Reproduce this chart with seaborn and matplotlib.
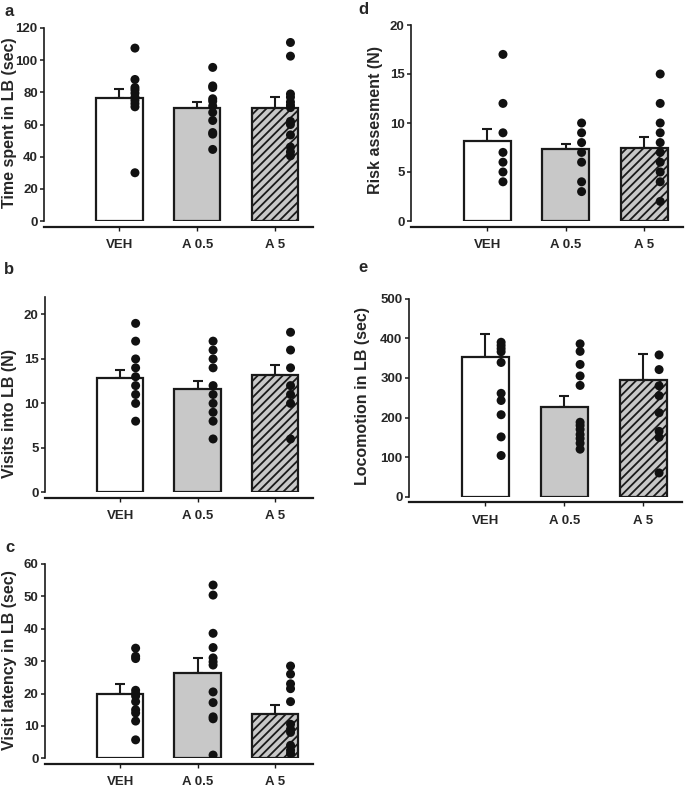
import numpy as np
import matplotlib
matplotlib.use('Agg')
import matplotlib.pyplot as plt
import seaborn as sns

groups = ['VEH', 'A 0.5', 'A 5']

# a: time spent in light box (sec)
time_means = [76.3, 70.3, 70.3]
time_sem = [5.6, 3.8, 6.5]
time_veh = [107.5, 88, 83, 81.5, 79.5, 77, 75, 73, 71, 30]
time_a05 = [95.5, 84, 83, 76, 74.5, 71.5, 67.5, 62.5, 55, 54, 44.5]
time_a5 = [111, 102.5, 79, 77, 74, 72, 70.5, 62, 60, 53.5, 46, 43, 40.5]

# b: visits into light box (N)
visit_means = [12.8, 11.6, 13.2]
visit_sem = [1.0, 0.95, 1.1]
visit_veh = [19, 17, 15, 14, 13, 12, 11, 10, 8]
visit_a05 = [17, 16, 15, 14, 12, 11, 10, 9, 8, 6]
visit_a5 = [18, 16, 14, 12, 11, 10, 6]

# c: visit latency (sec)
lat_means = [20.0, 26.3, 13.7]
lat_sem = [2.8, 4.7, 2.9]
lat_veh = [34, 31.5, 30.8, 21, 20, 19.2, 17.5, 15, 14, 11.5, 5.7]
lat_a05 = [53.5, 50.4, 38.6, 34.2, 31, 29.8, 28.8, 20.5, 17.2, 12.8, 12.2, 1]
lat_a5 = [28.5, 26, 23, 21.5, 17.5, 10.5, 9, 8, 4, 2.5, 1.5]

# d: risk assessment (N)
risk_means = [8.2, 7.3, 7.5]
risk_sem = [1.2, 0.55, 1.1]
risk_veh = [17, 12, 9, 7, 6, 5, 4]
risk_a05 = [10, 9, 8, 7, 6, 4, 3]
risk_a5 = [15, 12, 10, 9, 8, 7, 6, 5, 4, 2]

# e: locomotion (sec)
loco_means = [352, 227, 295]
loco_sem = [59, 28, 66]
loco_veh = [390, 382, 374, 366, 339, 261, 243, 207, 151, 104]
loco_a05 = [386, 367, 334, 305, 281, 188, 180, 170, 157, 147, 135, 120]
loco_a5 = [358, 321, 280, 255, 212, 165, 150, 60]

sns.set_style('ticks')
plt.rcParams['font.family'] = ['Liberation Sans', 'DejaVu Sans']
plt.rcParams['font.weight'] = 'bold'
plt.rcParams['hatch.linewidth'] = 1.3

W, H = 685, 791
fig = plt.figure(figsize=(W / 100, H / 100), dpi=100)


def px_axes(left, top, right, bottom):
    # axes box from pixel coordinates
    return fig.add_axes([left / W, 1 - bottom / H, (right - left) / W, (bottom - top) / H])


def draw_panel(ax, means, sems, dots, ylabel, ymax, step, label_xy):
    sns.barplot(x=groups, y=means, ax=ax, width=0.6, errorbar=None,
                color='white', edgecolor='#1a1a1a', linewidth=1.6, zorder=2)
    faces = ['white', '#c8c8c8', '#c8c8c8']
    hatches = [None, None, '////']
    for p, fc, h in zip(ax.patches, faces, hatches):
        p.set_facecolor(fc)
        p.set_edgecolor('#1a1a1a')
        if h:
            p.set_hatch(h)
    ax.errorbar(range(3), means, yerr=[np.zeros(3), sems], fmt='none',
                ecolor='#1a1a1a', elinewidth=1.5, capsize=3.5, capthick=1.5, zorder=1)
    for i, vals in enumerate(dots):
        sns.scatterplot(x=np.full(len(vals), i + 0.2), y=vals, ax=ax, color='#111111',
                        s=42, edgecolor='none', zorder=3, legend=False)
    ax.set_xlim(-0.97, 2.49)
    ax.set_ylim(0, ymax)
    ax.set_yticks(np.arange(0, ymax + 0.01, step))
    ax.spines[['top', 'right']].set_visible(False)
    ax.spines['bottom'].set_position(('outward', 4))
    ax.spines['bottom'].set_linewidth(1.6)
    ax.spines['left'].set_linewidth(1.2)
    for s in ['bottom', 'left']:
        ax.spines[s].set_color('#1a1a1a')
    ax.tick_params(axis='y', length=3, width=1.1, labelsize=9.5, pad=1.5, color='#1a1a1a')
    ax.tick_params(axis='x', length=3, width=1.0, labelsize=9.5, pad=6, color='#1a1a1a')
    ax.set_ylabel(ylabel, fontsize=11.5, fontweight='bold')
    ax.yaxis.set_label_coords(*label_xy)
    ax.set_xlabel('')
    for t in ax.get_xticklabels() + ax.get_yticklabels():
        t.set_fontweight('bold')


ax_a = px_axes(44, 28, 313, 221)
draw_panel(ax_a, time_means, time_sem, [time_veh, time_a05, time_a5],
           'Time spent in LB (sec)', 120, 20, (-0.10, 0.508))
ax_b = px_axes(45, 296.7, 313, 492.3)
draw_panel(ax_b, visit_means, visit_sem, [visit_veh, visit_a05, visit_a5],
           'Visits into LB (N)', 22, 5, (-0.104, 0.405))
ax_b.set_yticks([0, 5, 10, 15, 20])
ax_c = px_axes(45, 564, 313, 758.3)
draw_panel(ax_c, lat_means, lat_sem, [lat_veh, lat_a05, lat_a5],
           'Visit latency in LB (sec)', 60, 10, (-0.104, 0.506))
ax_d = px_axes(411, 25, 683, 221)
draw_panel(ax_d, risk_means, risk_sem, [risk_veh, risk_a05, risk_a5],
           'Risk assesment (N)', 20, 5, (-0.102, 0.515))
ax_e = px_axes(408.7, 298.7, 682, 496.7)
draw_panel(ax_e, loco_means, loco_sem, [loco_veh, loco_a05, loco_a5],
           'Locomotion in LB (sec)', 500, 100, (-0.142, 0.51))

for letter, x, y in [('a', 9, 11), ('b', 9, 269), ('c', 10, 547), ('d', 363, 10), ('e', 363, 268)]:
    fig.text(x / W, 1 - y / H, letter, fontsize=12, fontweight='bold', ha='center', va='center')

fig.savefig('out.png', dpi=100)
